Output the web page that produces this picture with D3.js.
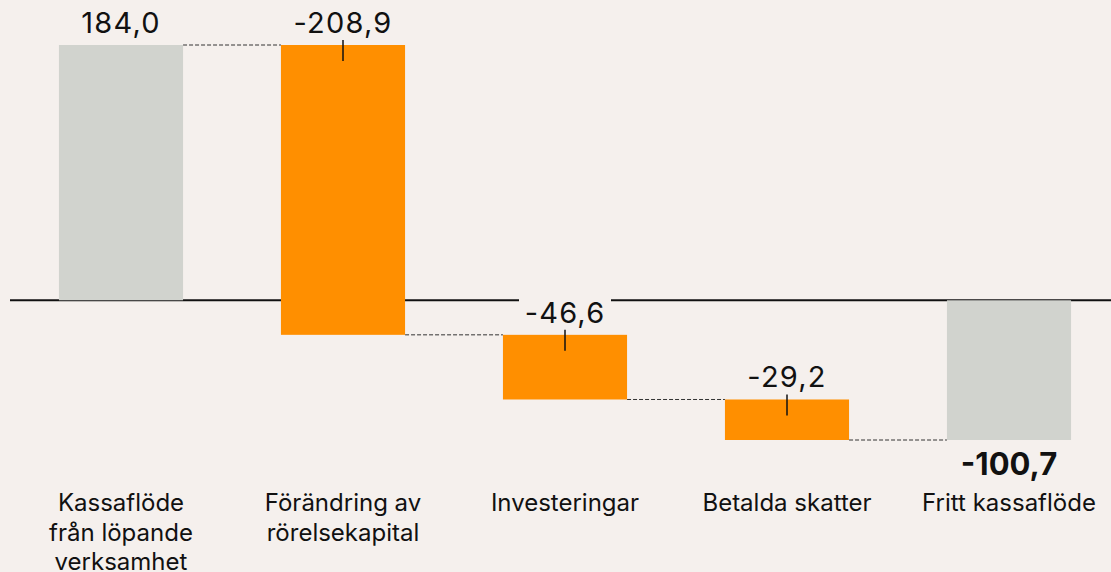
<!DOCTYPE html>
<html>
<head>
<meta charset="utf-8">
<script src="https://cdn.jsdelivr.net/npm/d3@7"></script>
<style>
  html, body { margin: 0; padding: 0; background: #f5f0ed; }
  svg { display: block; font-family: Inter, "Noto Sans", sans-serif; }
</style>
</head>
<body>
<script>
// data
var categories = [
  ["Kassaflöde", "från löpande", "verksamhet"],
  ["Förändring av", "rörelsekapital"],
  ["Investeringar"],
  ["Betalda skatter"],
  ["Fritt kassaflöde"]
];
var values = [184.0, -208.9, -46.6, -29.2, -100.7];
var valueLabels = ["184,0", "-208,9", "-46,6", "-29,2", "-100,7"];
var isTotal = [true, false, false, false, true];

var W = 1111, H = 572;
var bg = "#f5f0ed";

// build waterfall steps
var run = 0, steps = [];
values.forEach(function (v, i) {
  var s;
  if (isTotal[i]) { s = { y0: 0, y1: v }; run = v; }
  else { s = { y0: run, y1: run + v }; run = run + v; }
  s.i = i; s.v = v;
  steps.push(s);
});

var svg = d3.select("body").append("svg")
  .attr("width", W).attr("height", H)
  .attr("viewBox", "0 0 " + W + " " + H);

svg.append("rect").attr("width", W).attr("height", H).attr("fill", bg);

var x = d3.scaleBand()
  .domain(d3.range(values.length))
  .range([10, 1120])
  .paddingInner(0.441)
  .paddingOuter(0.2205);

var y = d3.scaleLinear()
  .domain([-100.7, 184])
  .range([440, 45]);

// zero line
svg.append("line")
  .attr("x1", 10).attr("x2", W)
  .attr("y1", y(0)).attr("y2", y(0))
  .attr("stroke", "#111").attr("stroke-width", 2);

// connectors
for (var k = 0; k < steps.length - 1; k++) {
  svg.append("line")
    .attr("x1", x(k) + x.bandwidth()).attr("x2", x(k + 1))
    .attr("y1", y(steps[k].y1)).attr("y2", y(steps[k].y1))
    .attr("stroke", "#333").attr("stroke-width", 1)
    .attr("stroke-dasharray", "4,2");
}

// bars
svg.selectAll("rect.bar").data(steps).enter().append("rect")
  .attr("class", "bar")
  .attr("x", function (d) { return x(d.i); })
  .attr("width", x.bandwidth())
  .attr("y", function (d) { return y(Math.max(d.y0, d.y1)); })
  .attr("height", function (d) { return Math.abs(y(d.y0) - y(d.y1)); })
  .attr("fill", function (d) { return isTotal[d.i] ? "#d1d3ce" : "#ff8f00"; });

// value labels
steps.forEach(function (d) {
  var cx = x(d.i) + x.bandwidth() / 2;
  var top = y(Math.max(d.y0, d.y1));
  if (d.i === values.length - 1) {
    svg.append("text")
      .attr("x", cx).attr("y", y(d.y1) + 35)
      .attr("text-anchor", "middle")
      .attr("font-size", 31).attr("font-weight", 700)
      .attr("fill", "#111")
      .text(valueLabels[d.i]);
    return;
  }
  var ty = top - 12;
  if (!isTotal[d.i]) {
    // background so the label cuts the zero line
    svg.append("rect")
      .attr("x", cx - 46).attr("y", ty - 28)
      .attr("width", 92).attr("height", 32)
      .attr("fill", bg);
    svg.append("line")
      .attr("x1", cx).attr("x2", cx)
      .attr("y1", top - 5).attr("y2", top + 16)
      .attr("stroke", "#111").attr("stroke-width", 1.5);
  }
  svg.append("text")
    .attr("x", cx).attr("y", ty)
    .attr("text-anchor", "middle")
    .attr("font-size", 29)
    .attr("letter-spacing", 1.2)
    .attr("fill", "#111")
    .text(valueLabels[d.i]);
});

// category labels
categories.forEach(function (lines, i) {
  var t = svg.append("text")
    .attr("x", x(i) + x.bandwidth() / 2)
    .attr("y", 511)
    .attr("text-anchor", "middle")
    .attr("font-size", 24)
    .attr("fill", "#111");
  lines.forEach(function (l, j) {
    t.append("tspan")
      .attr("x", x(i) + x.bandwidth() / 2)
      .attr("dy", j === 0 ? 0 : 29.5)
      .text(l);
  });
});
</script>
</body>
</html>
